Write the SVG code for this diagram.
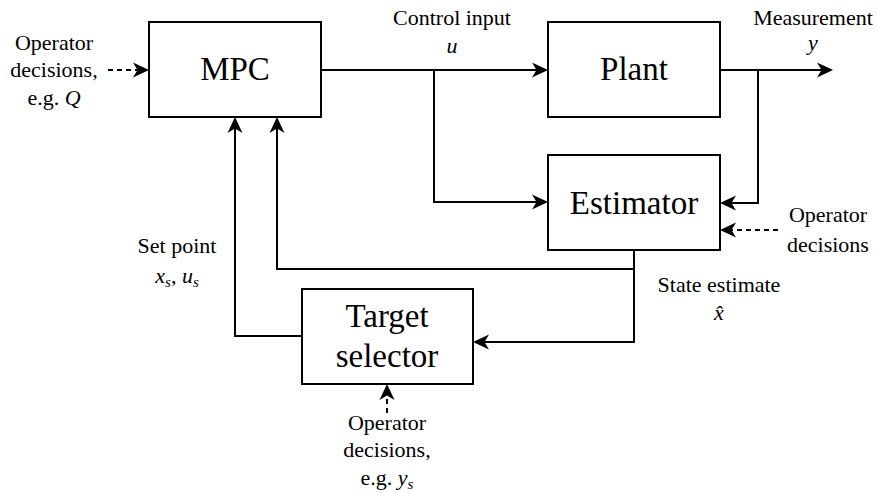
<svg xmlns="http://www.w3.org/2000/svg" width="878" height="493" viewBox="0 0 878 493">
  <style>
    .box { fill: #ffffff; stroke: #000000; stroke-width: 2; }
    .wire { fill: none; stroke: #000000; stroke-width: 2; marker-end: url(#head); }
    .dash { stroke-dasharray: 5 4; }
    text { font-family: 'Liberation Serif', 'Times New Roman', Tinos, 'DejaVu Serif', serif; fill: #000000; text-anchor: middle; }
    .big { font-size: 33px; }
    .lbl { font-size: 22px; }
    .m { font-style: italic; }
    .sub { font-size: 15px; font-style: italic; }
  </style>
  <defs>
    <!-- stealth-style arrowhead; tip sits 4px beyond the path end -->
    <marker id="head" markerUnits="userSpaceOnUse" viewBox="0 0 16 16" markerWidth="16" markerHeight="16" refX="12" refY="8" orient="auto">
      <path d="M16,8 L0,0.5 L4.5,8 L0,15.5 Z" fill="#000000"/>
    </marker>
  </defs>

  <!-- blocks -->
  <g id="mpc">
    <rect class="box" x="149" y="22" width="172" height="95"/>
    <text class="big" x="235" y="80" font-family="Liberation Serif, serif">MPC</text>
  </g>
  <g id="plant">
    <rect class="box" x="548" y="22" width="172" height="95"/>
    <text class="big" x="634" y="80">Plant</text>
  </g>
  <g id="estimator">
    <rect class="box" x="548" y="155" width="172" height="95"/>
    <text class="big" x="634" y="214">Estimator</text>
  </g>
  <g id="target-selector">
    <rect class="box" x="302" y="289" width="171" height="95"/>
    <text class="big" x="387" y="327">Target</text>
    <text class="big" x="387" y="367">selector</text>
  </g>

  <!-- signal lines -->
  <g id="connectors">
    <path class="wire dash" d="M108,70 H145"/>
    <path class="wire" d="M321,70 H544"/>
    <path class="wire" d="M720,70 H829"/>
    <path class="wire" d="M434,70 V202 H544"/>
    <path class="wire" d="M758,70 V203 H724"/>
    <path class="wire dash" d="M778,230 H724"/>
    <path class="wire" d="M634,250 V269 H277 V121"/>
    <path class="wire" d="M634,269 V342 H477"/>
    <path class="wire" d="M302,336 H235 V121"/>
    <path class="wire dash" d="M387,413 V388"/>
  </g>

  <!-- signal labels -->
  <g id="labels">
    <text class="lbl" x="54" y="50">Operator</text>
    <text class="lbl" x="54" y="77">decisions,</text>
    <text class="lbl" x="54" y="105">e.g. <tspan class="m">Q</tspan></text>

    <text class="lbl" x="452" y="25">Control input</text>
    <text class="lbl m" x="452" y="53">u</text>

    <text class="lbl" x="813" y="25">Measurement</text>
    <text class="lbl m" x="813" y="50">y</text>

    <text class="lbl" x="828" y="222">Operator</text>
    <text class="lbl" x="828" y="252">decisions</text>

    <text class="lbl" x="177" y="253">Set point</text>
    <text class="lbl" x="177" y="283"><tspan class="m">x</tspan><tspan class="sub" dy="4">s</tspan><tspan dy="-4">, </tspan><tspan class="m">u</tspan><tspan class="sub" dy="4">s</tspan></text>

    <text class="lbl" x="719" y="292">State estimate</text>
    <text class="lbl m" x="719" y="320">x̂</text>

    <text class="lbl" x="387" y="430">Operator</text>
    <text class="lbl" x="387" y="457">decisions,</text>
    <text class="lbl" x="387" y="485">e.g. <tspan class="m">y</tspan><tspan class="sub" dy="4">s</tspan></text>
  </g>
</svg>
